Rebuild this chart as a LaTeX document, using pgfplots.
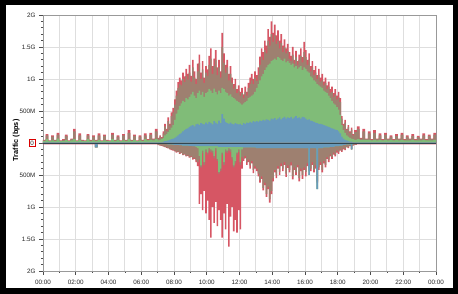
\documentclass[border=0pt]{standalone}
\usepackage{fontspec}
\setmainfont{Liberation Sans}
\usepackage{pgfplots}
\usepackage{pgfplotstable}
\pgfplotsset{compat=1.18}
\definecolor{cgreen}{RGB}{128,188,120}
\definecolor{cblue}{RGB}{104,154,188}
\definecolor{cbrown}{RGB}{158,128,112}
\definecolor{cred}{RGB}{214,86,100}
\definecolor{czero}{RGB}{50,70,80}
\definecolor{cgrid}{RGB}{222,222,222}
\pgfplotstableread{
t T B G L l g b R
0 .05 .04 .03 .01 -.005 -.005 -.012 -.02
10 .14 .12 .06 .01 -.005 -.005 -.012 -.02
20 .04 .035 .03 .01 -.005 -.005 -.012 -.02
30 .12 .10 .04 .01 -.005 -.005 -.012 -.02
40 .05 .04 .03 .01 -.005 -.005 -.012 -.02
50 .16 .13 .07 .01 -.005 -.005 -.012 -.02
60 .04 .035 .03 .01 -.005 -.005 -.012 -.02
70 .06 .05 .03 .01 -.005 -.005 -.012 -.02
80 .13 .11 .05 .01 -.005 -.005 -.012 -.02
90 .04 .035 .03 .01 -.005 -.005 -.012 -.02
100 .07 .06 .04 .01 -.005 -.005 -.012 -.02
110 .22 .18 .06 .01 -.005 -.005 -.012 -.02
120 .04 .035 .03 .01 -.005 -.005 -.012 -.02
130 .15 .12 .05 .01 -.005 -.005 -.012 -.02
140 .05 .04 .03 .01 -.005 -.005 -.012 -.02
150 .04 .035 .03 .01 -.005 -.005 -.012 -.02
160 .14 .12 .06 .01 -.005 -.005 -.012 -.02
170 .05 .04 .03 .01 -.005 -.005 -.012 -.02
180 .12 .10 .04 .01 -.005 -.005 -.012 -.02
190 .05 .04 .03 .01 -.07 -.07 -.07 -.07
200 .15 .12 .05 .01 -.005 -.005 -.012 -.02
210 .04 .035 .03 .01 -.005 -.005 -.012 -.02
220 .13 .11 .04 .01 -.005 -.005 -.012 -.02
230 .05 .04 .03 .01 -.005 -.005 -.012 -.02
240 .04 .035 .03 .01 -.005 -.005 -.012 -.02
250 .16 .13 .06 .01 -.005 -.005 -.012 -.02
260 .05 .04 .03 .01 -.005 -.005 -.012 -.02
270 .12 .10 .05 .01 -.005 -.005 -.012 -.02
280 .04 .035 .03 .01 -.005 -.005 -.012 -.02
290 .14 .12 .04 .01 -.005 -.005 -.012 -.02
300 .05 .04 .03 .01 -.005 -.005 -.012 -.02
310 .20 .16 .06 .01 -.005 -.005 -.012 -.02
320 .05 .04 .03 .01 -.005 -.005 -.012 -.02
330 .13 .11 .05 .01 -.005 -.005 -.012 -.02
340 .04 .035 .03 .01 -.005 -.005 -.012 -.02
350 .12 .10 .04 .01 -.005 -.005 -.012 -.02
360 .05 .04 .03 .01 -.005 -.005 -.012 -.02
370 .15 .12 .06 .01 -.005 -.005 -.012 -.02
380 .06 .05 .04 .01 -.005 -.005 -.012 -.02
390 .16 .13 .05 .01 -.005 -.005 -.012 -.02
400 .07 .06 .04 .01 -.005 -.005 -.012 -.02
410 .22 .18 .06 .01 -.005 -.005 -.012 -.02
420 .08 .07 .04 .01 -.01 -.01 -.03 -.035
426 .12 .10 .05 .01 -.01 -.01 -.035 -.04
432 .09 .08 .06 .01 -.01 -.01 -.04 -.045
438 .18 .15 .08 .02 -.01 -.01 -.05 -.055
444 .30 .26 .12 .03 -.015 -.015 -.06 -.065
450 .22 .19 .14 .03 -.015 -.015 -.07 -.075
456 .40 .34 .17 .04 -.02 -.02 -.08 -.085
462 .30 .27 .20 .05 -.02 -.02 -.09 -.10
468 .48 .42 .24 .06 -.02 -.02 -.10 -.11
474 .55 .48 .28 .07 -.025 -.025 -.11 -.12
480 .68 .60 .36 .08 -.03 -.03 -.12 -.13
486 .82 .74 .46 .10 -.03 -.03 -.14 -.15
492 .95 .86 .52 .12 -.03 -.03 -.13 -.14
498 1.02 .92 .58 .14 -.035 -.035 -.16 -.17
504 .98 .90 .62 .16 -.035 -.035 -.15 -.16
510 1.10 1.00 .66 .18 -.04 -.04 -.18 -.19
516 1.04 .95 .64 .20 -.04 -.04 -.17 -.18
522 1.16 1.05 .70 .22 -.04 -.04 -.20 -.21
528 1.08 .99 .68 .23 -.04 -.04 -.19 -.20
534 1.22 1.10 .72 .25 -.045 -.045 -.22 -.23
540 1.05 .96 .76 .27 -.045 -.045 -.21 -.22
546 1.30 1.18 .80 .28 -.05 -.05 -.24 -.26
552 1.12 1.02 .74 .26 -.05 -.05 -.23 -.25
558 1.00 .92 .70 .29 -.05 -.06 -.27 -.30
564 1.24 1.12 .78 .30 -.05 -.08 -.30 -.36
570 1.38 1.25 .82 .28 -.05 -.20 -.26 -.95
576 1.10 1.00 .75 .31 -.05 -.35 -.38 -.80
582 1.28 1.15 .80 .30 -.05 -.12 -.16 -1.05
588 1.02 .94 .72 .29 -.05 -.30 -.34 -.75
594 1.20 1.10 .78 .32 -.05 -.10 -.14 -1.10
600 1.15 1.05 .80 .30 -.05 -.15 -.18 -.90
606 1.36 1.22 .84 .33 -.05 -.08 -.12 -1.20
612 1.48 1.32 .82 .31 -.05 -.10 -.14 -1.48
618 1.20 1.08 .78 .29 -.05 -.12 -.16 -1.00
624 1.32 1.20 .85 .34 -.05 -.20 -.24 -1.25
630 1.45 1.30 .80 .32 -.05 -.08 -.12 -.92
636 1.18 1.06 .76 .30 -.05 -.25 -.28 -1.30
642 1.30 1.18 .82 .35 -.06 -.45 -.48 -1.05
648 1.12 1.02 .78 .31 -.06 -.40 -.44 -1.20
654 1.72 1.50 .86 .45 -.06 -.15 -.18 -1.48
660 1.40 1.25 .84 .38 -.06 -.30 -.34 -1.10
666 1.22 1.10 .80 .33 -.06 -.10 -.14 -1.35
672 1.30 1.18 .78 .31 -.06 -.12 -.16 -.95
678 1.08 .98 .74 .30 -.06 -.08 -.12 -1.62
684 1.20 1.08 .76 .32 -.06 -.10 -.14 -1.15
690 1.02 .94 .72 .30 -.06 -.22 -.26 -1.00
696 .92 .85 .70 .29 -.06 -.35 -.38 -1.38
702 1.00 .90 .68 .31 -.06 -.28 -.32 -1.20
708 .84 .78 .66 .30 -.06 -.15 -.18 -1.40
714 .90 .82 .64 .29 -.06 -.10 -.14 -1.05
720 .80 .74 .62 .30 -.06 -.30 -.34 -1.35
726 .86 .78 .60 .28 -.06 -.10 -.22 -.40
732 .76 .70 .62 .31 -.07 -.07 -.25 -.28
738 .88 .80 .64 .30 -.07 -.07 -.20 -.24
744 .80 .74 .66 .32 -.07 -.07 -.30 -.34
750 .94 .86 .70 .31 -.07 -.07 -.26 -.30
756 1.02 .92 .72 .33 -.07 -.07 -.35 -.40
762 1.08 .98 .74 .32 -.07 -.07 -.28 -.32
768 1.00 .92 .76 .34 -.07 -.07 -.42 -.47
774 1.12 1.02 .80 .33 -.07 -.07 -.36 -.40
780 1.06 .97 .86 .34 -.08 -.08 -.40 -.44
786 1.18 1.06 .92 .33 -.08 -.08 -.48 -.52
792 1.35 1.22 .98 .35 -.08 -.08 -.58 -.62
798 1.48 1.34 1.04 .34 -.08 -.08 -.52 -.56
804 1.42 1.30 1.08 .36 -.08 -.08 -.70 -.74
810 1.60 1.45 1.14 .35 -.08 -.08 -.62 -.66
816 1.52 1.40 1.18 .37 -.08 -.08 -.80 -.84
822 1.78 1.60 1.22 .36 -.08 -.08 -.68 -.72
828 1.66 1.52 1.24 .35 -.08 -.08 -.88 -.93
834 1.90 1.70 1.28 .38 -.08 -.08 -.75 -.80
840 1.72 1.58 1.30 .37 -.08 -.08 -.55 -.60
846 1.85 1.68 1.32 .39 -.08 -.08 -.42 -.46
852 1.68 1.55 1.30 .36 -.08 -.08 -.50 -.55
858 1.76 1.60 1.34 .38 -.08 -.08 -.36 -.40
864 1.60 1.48 1.33 .40 -.08 -.08 -.45 -.50
870 1.70 1.56 1.30 .37 -.08 -.08 -.32 -.36
876 1.52 1.42 1.28 .39 -.08 -.08 -.40 -.44
882 1.62 1.50 1.32 .41 -.08 -.08 -.30 -.34
888 1.48 1.40 1.26 .38 -.08 -.08 -.48 -.53
894 1.55 1.44 1.28 .40 -.08 -.08 -.35 -.39
900 1.42 1.32 1.25 .39 -.08 -.08 -.42 -.46
906 1.36 1.28 1.22 .41 -.08 -.08 -.30 -.35
912 1.50 1.38 1.24 .38 -.08 -.08 -.52 -.57
918 1.30 1.24 1.18 .40 -.08 -.08 -.38 -.42
924 1.44 1.34 1.20 .42 -.08 -.08 -.46 -.50
930 1.28 1.22 1.16 .39 -.08 -.08 -.34 -.38
936 1.38 1.30 1.18 .40 -.08 -.08 -.55 -.60
942 1.48 1.36 1.20 .38 -.08 -.08 -.40 -.44
948 1.34 1.26 1.14 .41 -.08 -.08 -.50 -.56
954 1.58 1.42 1.18 .40 -.08 -.08 -.38 -.42
960 1.45 1.34 1.16 .38 -.08 -.08 -.45 -.52
966 1.30 1.22 1.12 .36 -.08 -.08 -.32 -.36
972 1.40 1.30 1.10 .37 -.50 -.50 -.40 -.44
978 1.20 1.12 1.04 .35 -.08 -.08 -.40 -.44
984 1.28 1.18 1.02 .34 -.08 -.08 -.30 -.34
990 1.14 1.06 .98 .33 -.08 -.08 -.42 -.46
996 1.20 1.10 .96 .32 -.08 -.08 -.35 -.40
1002 1.06 1.00 .92 .31 -.72 -.72 -.60 -.62
1008 1.16 1.06 .90 .30 -.08 -.08 -.38 -.42
1014 1.02 .96 .88 .30 -.08 -.08 -.30 -.34
1020 1.08 .98 .86 .29 -.08 -.08 -.42 -.46
1026 .96 .90 .82 .28 -.07 -.07 -.28 -.32
1032 1.02 .94 .80 .27 -.07 -.07 -.34 -.38
1038 .90 .84 .78 .26 -.07 -.07 -.22 -.25
1044 .96 .88 .74 .25 -.07 -.07 -.26 -.30
1050 .84 .78 .70 .24 -.06 -.06 -.18 -.21
1056 .88 .80 .66 .23 -.06 -.06 -.22 -.25
1062 .78 .72 .62 .22 -.06 -.06 -.15 -.18
1068 .84 .76 .60 .21 -.05 -.05 -.18 -.21
1074 .74 .68 .56 .20 -.05 -.05 -.12 -.15
1080 .80 .72 .52 .18 -.05 -.05 -.14 -.17
1086 .70 .64 .44 .15 -.04 -.04 -.10 -.12
1092 .42 .38 .28 .10 -.04 -.04 -.12 -.14
1098 .30 .27 .20 .07 -.03 -.03 -.08 -.10
1104 .36 .32 .16 .05 -.03 -.03 -.09 -.11
1110 .22 .20 .12 .04 -.02 -.02 -.06 -.07
1116 .28 .25 .10 .03 -.02 -.02 -.07 -.08
1122 .18 .16 .08 .02 -.02 -.02 -.04 -.05
1128 .24 .21 .07 .02 -.10 -.10 -.10 -.10
1134 .14 .12 .06 .01 -.015 -.015 -.03 -.04
1140 .20 .17 .05 .01 -.01 -.01 -.025 -.03
1150 .26 .22 .06 .01 -.005 -.005 -.012 -.02
1160 .08 .07 .05 .01 -.005 -.005 -.012 -.02
1170 .22 .18 .05 .01 -.005 -.005 -.012 -.02
1180 .07 .06 .05 .01 -.005 -.005 -.012 -.02
1190 .18 .15 .05 .01 -.005 -.005 -.012 -.02
1200 .06 .05 .04 .01 -.005 -.005 -.012 -.02
1210 .20 .16 .05 .01 -.005 -.005 -.012 -.02
1220 .07 .06 .04 .01 -.005 -.005 -.012 -.02
1230 .15 .12 .05 .01 -.005 -.005 -.012 -.02
1240 .06 .05 .04 .01 -.005 -.005 -.012 -.02
1250 .16 .13 .05 .01 -.005 -.005 -.012 -.02
1260 .07 .06 .04 .01 -.005 -.005 -.012 -.02
1270 .12 .10 .05 .01 -.005 -.005 -.012 -.02
1280 .06 .05 .04 .01 -.005 -.005 -.012 -.02
1290 .14 .11 .05 .01 -.005 -.005 -.012 -.02
1300 .07 .06 .04 .01 -.005 -.005 -.012 -.02
1310 .16 .13 .05 .01 -.005 -.005 -.012 -.02
1320 .06 .05 .04 .01 -.005 -.005 -.012 -.02
1330 .12 .10 .04 .01 -.005 -.005 -.012 -.02
1340 .07 .06 .04 .01 -.005 -.005 -.012 -.02
1350 .14 .11 .05 .01 -.005 -.005 -.012 -.02
1360 .06 .05 .04 .01 -.005 -.005 -.012 -.02
1370 .11 .09 .04 .01 -.005 -.005 -.012 -.02
1380 .07 .06 .04 .01 -.005 -.005 -.012 -.02
1390 .15 .12 .05 .01 -.005 -.005 -.012 -.02
1400 .06 .05 .04 .01 -.005 -.005 -.012 -.02
1410 .13 .11 .04 .01 -.005 -.005 -.012 -.02
1420 .07 .06 .04 .01 -.005 -.005 -.012 -.02
1430 .16 .13 .05 .01 -.005 -.005 -.012 -.02
1440 .08 .07 .04 .01 -.005 -.005 -.012 -.02
}\traffic
\begin{document}
\begin{tikzpicture}[x=1pt,y=1pt]
\useasboundingbox (0,0) rectangle (458,294);
\fill[white] (0,0) rectangle (458,294);
\begin{axis}[
  at={(43pt,23pt)}, anchor=south west,
  scale only axis, width=393pt, height=256pt,
  xmin=0, xmax=1440, ymin=-2, ymax=2,
  xtick={0,120,...,1440},
  xticklabels={00:00,02:00,04:00,06:00,08:00,10:00,12:00,14:00,16:00,18:00,20:00,22:00,00:00},
  minor xtick={60,180,...,1380},
  ytick={-2,-1.5,-1,-0.5,0,0.5,1,1.5,2},
  yticklabels={2G,1.5G,1G,500M,{\setlength{\fboxsep}{1pt}\setlength{\fboxrule}{0.6pt}\fcolorbox{red!85!black}{white}{0}},500M,1G,1.5G,2G},
  minor y tick num=4,
  xmajorgrids, xminorgrids, ymajorgrids,
  major grid style={draw=cgrid, line width=0.9pt},
  minor grid style={draw=cgrid, line width=0.9pt},
  axis line style={black!40, line width=0.7pt},
  tick pos=left, tick align=outside,
  major tick length=4pt, minor tick length=2pt,
  every tick/.style={black!70, line width=0.6pt},
  tick label style={font=\fontsize{6.3}{7}\selectfont, text=black!85},
  xticklabel style={yshift=-1.5pt},
  ylabel={Traffic (bps)},
  ylabel style={font=\bfseries\fontsize{7.3}{8}\selectfont, at={(axis description cs:-0.068,0.51)}, anchor=center},
  /pgf/number format/assume math mode=true,
]
\addplot[const plot, fill=cred, draw=none] table[x=t,y=T] {\traffic} \closedcycle;
\addplot[const plot, fill=cbrown, draw=none] table[x=t,y=B] {\traffic} \closedcycle;
\addplot[const plot, fill=cgreen, draw=none] table[x=t,y=G] {\traffic} \closedcycle;
\addplot[const plot, fill=cblue, draw=none] table[x=t,y=L] {\traffic} \closedcycle;
\addplot[const plot, fill=cred, draw=none] table[x=t,y=R] {\traffic} \closedcycle;
\addplot[const plot, fill=cbrown, draw=none] table[x=t,y=b] {\traffic} \closedcycle;
\addplot[const plot, fill=cgreen, draw=none] table[x=t,y=g] {\traffic} \closedcycle;
\addplot[const plot, fill=cblue, draw=none] table[x=t,y=l] {\traffic} \closedcycle;
\addplot[czero, line width=0.9pt] coordinates {(0,0) (1440,0)};
\end{axis}
\draw[line width=5.5pt] (2.75,2.75) rectangle (455.25,291.25);
\end{tikzpicture}
\end{document}
